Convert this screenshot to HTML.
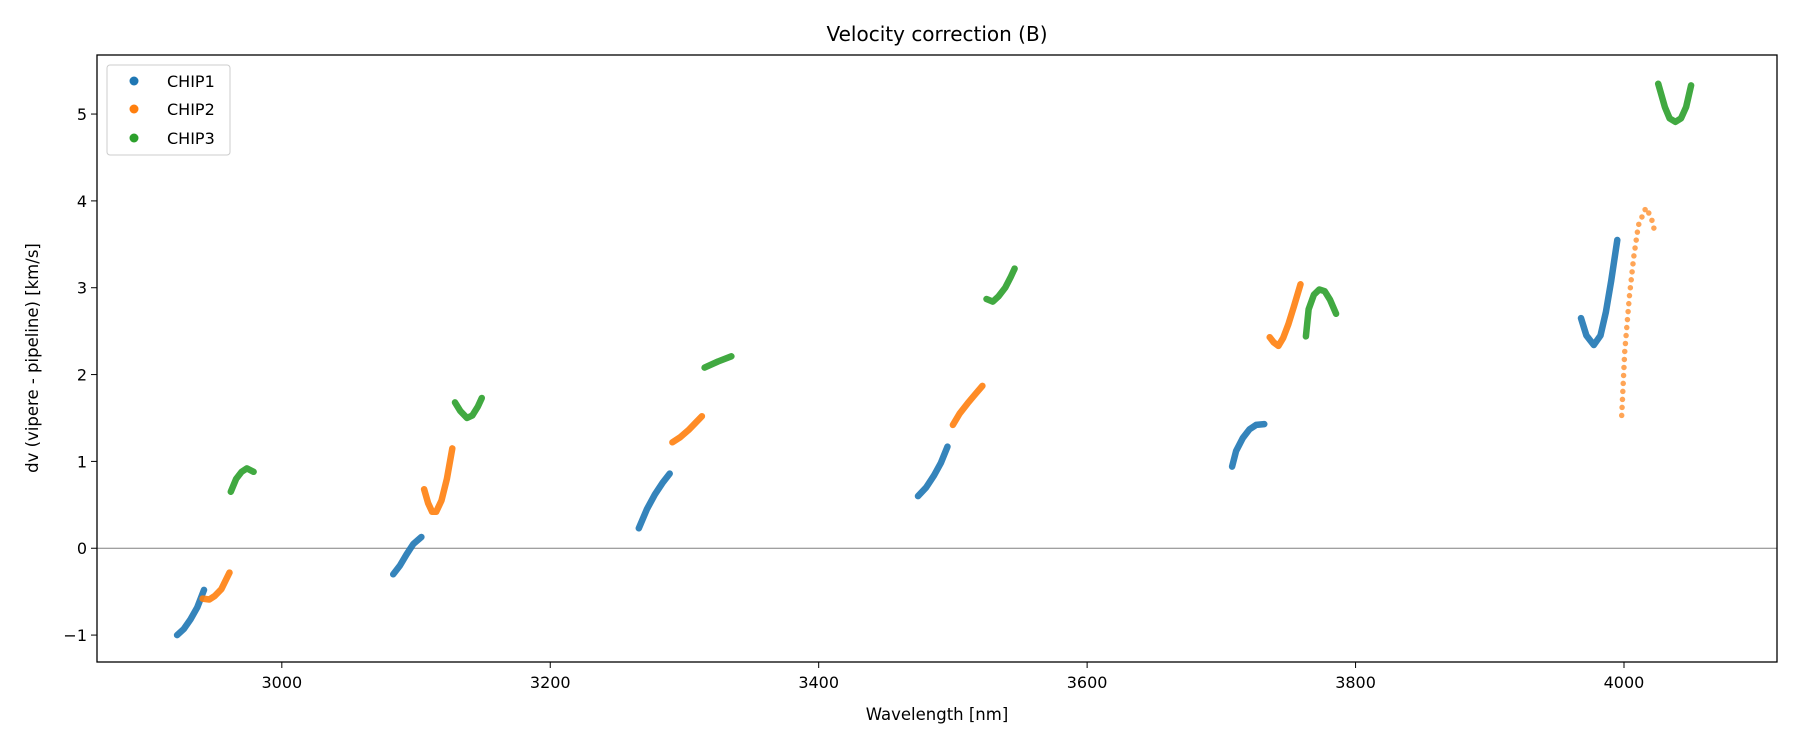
<!DOCTYPE html>
<html><head><meta charset="utf-8"><style>
html,body{margin:0;padding:0;background:#fff;}
svg text{font-family:"DejaVu Sans","Liberation Sans",sans-serif;fill:#000;}
</style></head><body>
<svg id="chart" width="1800" height="750" xmlns="http://www.w3.org/2000/svg">
<rect x="0" y="0" width="1800" height="750" fill="#fff"/>
<text x="937" y="41" font-size="20" text-anchor="middle">Velocity correction (B)</text>
<g id="plot"></g>
<text x="937" y="720" font-size="16.5" text-anchor="middle">Wavelength [nm]</text>
<text transform="translate(38,358) rotate(-90)" font-size="16.5" text-anchor="middle">dv (vipere - pipeline) [km/s]</text>
<g>
<rect x="107" y="65" width="123" height="90" rx="3" fill="#fff" stroke="#ccc" stroke-width="1"/>
<circle cx="134" cy="81" r="4.5" fill="#1f77b4"/>
<text x="167" y="87" font-size="16">CHIP1</text>
<circle cx="134" cy="109" r="4.5" fill="#ff7f0e"/>
<text x="167" y="115" font-size="16">CHIP2</text>
<circle cx="134" cy="138" r="4.5" fill="#2ca02c"/>
<text x="167" y="144" font-size="16">CHIP3</text>
</g>
</svg>
<script>
const xTicks = [3000, 3200, 3400, 3600, 3800, 4000];
const yTicks = [-1, 0, 1, 2, 3, 4, 5];
const yTickLabels = ["\u22121", "0", "1", "2", "3", "4", "5"];
// each segment: [wavelengths], [dv]
const chip1Wave = [[2922,2927,2932,2937,2942],[3083,3088,3093,3098,3104],[3266,3272,3278,3284,3289],[3474,3480,3486,3491,3496],[3708,3711,3716,3721,3726,3732],[3968,3972,3977.5,3982.5,3986.5,3990.5,3995]];
const chip1Dv = [[-1.0,-0.93,-0.82,-0.68,-0.48],[-0.3,-0.2,-0.07,0.05,0.13],[0.23,0.45,0.62,0.76,0.86],[0.6,0.7,0.84,0.98,1.17],[0.94,1.12,1.27,1.37,1.42,1.43],[2.65,2.45,2.34,2.45,2.72,3.08,3.55]];
const chip2Wave = [[2941,2946,2950,2955,2961],[3106,3109,3112,3115,3119,3123,3127],[3291,3297,3303,3308,3313],[3500,3505,3511,3517,3522],[3736,3739,3742.5,3746,3750,3754,3759],[3998.3,4000.5,4004,4007.2,4010.7,4016.3,4020.3,4023.2]];
const chip2Dv = [[-0.58,-0.59,-0.55,-0.47,-0.28],[0.68,0.52,0.42,0.42,0.55,0.8,1.15],[1.22,1.28,1.36,1.44,1.52],[1.42,1.55,1.67,1.78,1.87],[2.43,2.37,2.33,2.42,2.58,2.78,3.04],[1.53,2.26,2.9,3.35,3.72,3.92,3.81,3.63]];
const chip3Wave = [[2962,2966,2970,2974,2979],[3129,3133,3138,3142,3146,3149],[3315,3325,3335],[3525,3529.7,3534,3539,3543,3546],[3763,3765,3769,3773,3777,3781,3785.5],[4025.5,4030.5,4034,4038.3,4042.5,4046.3,4050]];
const chip3Dv = [[0.65,0.8,0.88,0.92,0.88],[1.68,1.58,1.5,1.53,1.63,1.73],[2.08,2.15,2.21],[2.87,2.84,2.9,3.0,3.12,3.22],[2.44,2.75,2.92,2.98,2.96,2.86,2.70],[5.35,5.08,4.95,4.91,4.95,5.08,5.33]];

const L=97, R=1777, T=55, B=662, X0=2862.3, X1=4114, Y0=-1.31, Y1=5.68;
const sx = v => L + (v - X0) / (X1 - X0) * (R - L);
const sy = v => B - (v - Y0) / (Y1 - Y0) * (B - T);
const NS = "http://www.w3.org/2000/svg";
const g = document.getElementById('plot');
function mk(tag, attrs){const e=document.createElementNS(NS,tag);for(const k in attrs)e.setAttribute(k,attrs[k]);g.appendChild(e);return e;}

const zl = mk('line',{x1:L,x2:R,y1:sy(0),y2:sy(0),stroke:'#808080','stroke-width':1});



const series = [["chip1",chip1Wave,chip1Dv,"#1f77b4"],["chip2",chip2Wave,chip2Dv,"#ff7f0e"],["chip3",chip3Wave,chip3Dv,"#2ca02c"]];
series.forEach(([name,W,D,col])=>{
  W.forEach((ws,si)=>{
    const pts = ws.map((w,i)=>sx(w).toFixed(1)+','+sy(D[si][i]).toFixed(1)).join(' ');
    const dotted = (name==="chip2" && si===5);
    const attrs = {points:pts,fill:'none',stroke:col,'stroke-width':dotted?5.5:6.5,'stroke-linecap':'round','stroke-linejoin':'round',opacity:dotted?0.7:0.9};
    if (dotted) attrs['stroke-dasharray'] = '0 8';
    const pl = mk('polyline',attrs);
    
    
  });
});

const frame = mk('rect',{x:L,y:T,width:R-L,height:B-T,fill:'none',stroke:'#000','stroke-width':1.3});



xTicks.forEach(t=>{
  const x=sx(t);
  const tk=mk('line',{x1:x,x2:x,y1:B,y2:B+6,stroke:'#000','stroke-width':1});
  
  
  const tx=mk('text',{x:x,y:B+26,'font-size':16,'text-anchor':'middle'});
  tx.textContent=String(t);
  
  
});
yTicks.forEach((t,i)=>{
  const y=sy(t);
  const tk=mk('line',{x1:L-6,x2:L,y1:y,y2:y,stroke:'#000','stroke-width':1});
  
  
  const tx=mk('text',{x:L-10,y:y+6,'font-size':16,'text-anchor':'end'});
  tx.textContent=yTickLabels[i];
  
  
});
</script>
</body></html>
